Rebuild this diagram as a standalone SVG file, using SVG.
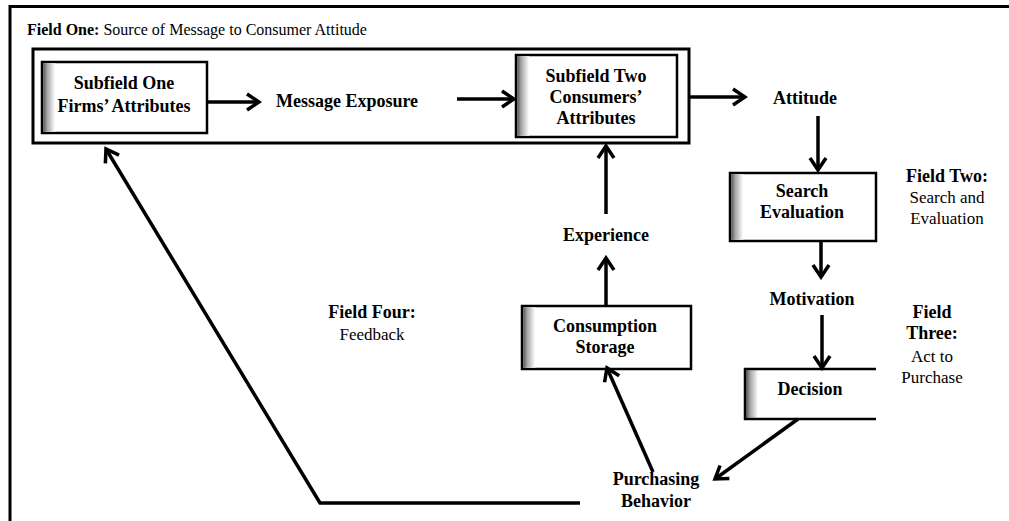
<svg xmlns="http://www.w3.org/2000/svg" width="1009" height="521" viewBox="0 0 1009 521">
  <defs>
    <linearGradient id="shade" x1="0" y1="0" x2="1" y2="0">
      <stop offset="0" stop-color="#555555"/>
      <stop offset="0.35" stop-color="#a8a8a8"/>
      <stop offset="1" stop-color="#ffffff"/>
    </linearGradient>
    <marker id="arr" markerUnits="userSpaceOnUse" markerWidth="18" markerHeight="20" viewBox="0 0 18 20" refX="15" refY="10" orient="auto">
      <path d="M3,2 L15,10 L3,18" fill="none" stroke="#000" stroke-width="3.5" stroke-linejoin="miter"/>
    </marker>
    <style>
      .t { font-family: "Liberation Serif", "Times New Roman", serif; fill: #000; text-anchor: middle; }
      .b { font-weight: bold; font-size: 18px; }
      .n { font-weight: normal; font-size: 17px; }
      .box { fill: #fff; stroke: #000; stroke-width: 2.5; }
      .sh { fill: url(#shade); }
      .c { fill: none; stroke: #000; stroke-width: 3.5; marker-end: url(#arr); }
      .frame { fill: none; stroke: #000; stroke-width: 3; }
    </style>
  </defs>
  <rect width="1009" height="521" fill="#fff"/>

  <g id="field-one">
    <path class="frame" d="M10,521 L10,6.5 L1009,6.5"/>
    <text class="t" x="27" y="35" style="text-anchor:start;font-size:16px"><tspan font-weight="bold">Field One:</tspan> Source of Message to Consumer Attitude</text>
    <rect class="frame" x="33" y="49" width="656" height="94"/>
  </g>

  <g id="subfield-one">
    <rect class="box" x="42" y="62" width="165" height="71"/>
    <rect class="sh" x="43.2" y="63.2" width="12" height="68.6"/>
    <text class="t b" x="124" y="89">Subfield One</text>
    <text class="t b" x="124" y="112">Firms’ Attributes</text>
  </g>

  <g id="message-exposure">
    <text class="t b" x="347" y="107">Message Exposure</text>
  </g>

  <g id="subfield-two">
    <rect class="box" x="516" y="55" width="161" height="82"/>
    <rect class="sh" x="517.2" y="56.2" width="12" height="79.6"/>
    <text class="t b" x="596" y="82">Subfield Two</text>
    <text class="t b" x="596" y="103">Consumers’</text>
    <text class="t b" x="596" y="124">Attributes</text>
  </g>

  <g id="attitude">
    <text class="t b" x="805" y="104">Attitude</text>
  </g>

  <g id="search-evaluation">
    <rect class="box" x="730" y="173" width="146" height="68"/>
    <rect class="sh" x="731.2" y="174.2" width="12" height="65.6"/>
    <text class="t b" x="802" y="197">Search</text>
    <text class="t b" x="802" y="218">Evaluation</text>
  </g>

  <g id="field-two">
    <text class="t b" x="947" y="182">Field Two:</text>
    <text class="t n" x="947" y="203">Search and</text>
    <text class="t n" x="947" y="224">Evaluation</text>
  </g>

  <g id="motivation">
    <text class="t b" x="812" y="305">Motivation</text>
  </g>

  <g id="decision">
    <rect x="745" y="369" width="131" height="50" fill="#fff"/>
    <rect class="sh" x="746.2" y="370.2" width="12" height="47.6"/>
    <path d="M876,369 L745,369 L745,419 L876,419" fill="none" stroke="#000" stroke-width="2.5"/>
    <text class="t b" x="810" y="395">Decision</text>
  </g>

  <g id="field-three">
    <text class="t b" x="932" y="318">Field</text>
    <text class="t b" x="932" y="339">Three:</text>
    <text class="t n" x="932" y="362">Act to</text>
    <text class="t n" x="932" y="383">Purchase</text>
  </g>

  <g id="purchasing-behavior">
    <text class="t b" x="656" y="485">Purchasing</text>
    <text class="t b" x="656" y="507">Behavior</text>
  </g>

  <g id="consumption-storage">
    <rect class="box" x="522" y="306" width="169" height="63"/>
    <rect class="sh" x="523.2" y="307.2" width="12" height="60.6"/>
    <text class="t b" x="605" y="332">Consumption</text>
    <text class="t b" x="605" y="353">Storage</text>
  </g>

  <g id="experience">
    <text class="t b" x="606" y="241">Experience</text>
  </g>

  <g id="field-four">
    <text class="t b" x="372" y="318">Field Four:</text>
    <text class="t n" x="372" y="340">Feedback</text>
  </g>

  <g id="connectors">
    <line class="c" x1="207" y1="102" x2="259" y2="102"/>
    <line class="c" x1="457" y1="99" x2="514" y2="99"/>
    <line class="c" x1="689" y1="97" x2="745" y2="97"/>
    <line class="c" x1="818" y1="116" x2="818" y2="170"/>
    <line class="c" x1="821" y1="241" x2="821" y2="277"/>
    <line class="c" x1="822" y1="315" x2="822" y2="368"/>
    <line class="c" x1="798" y1="419" x2="715" y2="479"/>
    <line class="c" x1="653" y1="472" x2="607" y2="368"/>
    <line class="c" x1="606" y1="306" x2="606" y2="258"/>
    <line class="c" x1="606" y1="214" x2="606" y2="146"/>
    <polyline class="c" points="580,503 320,503 106,149"/>
  </g>
</svg>
